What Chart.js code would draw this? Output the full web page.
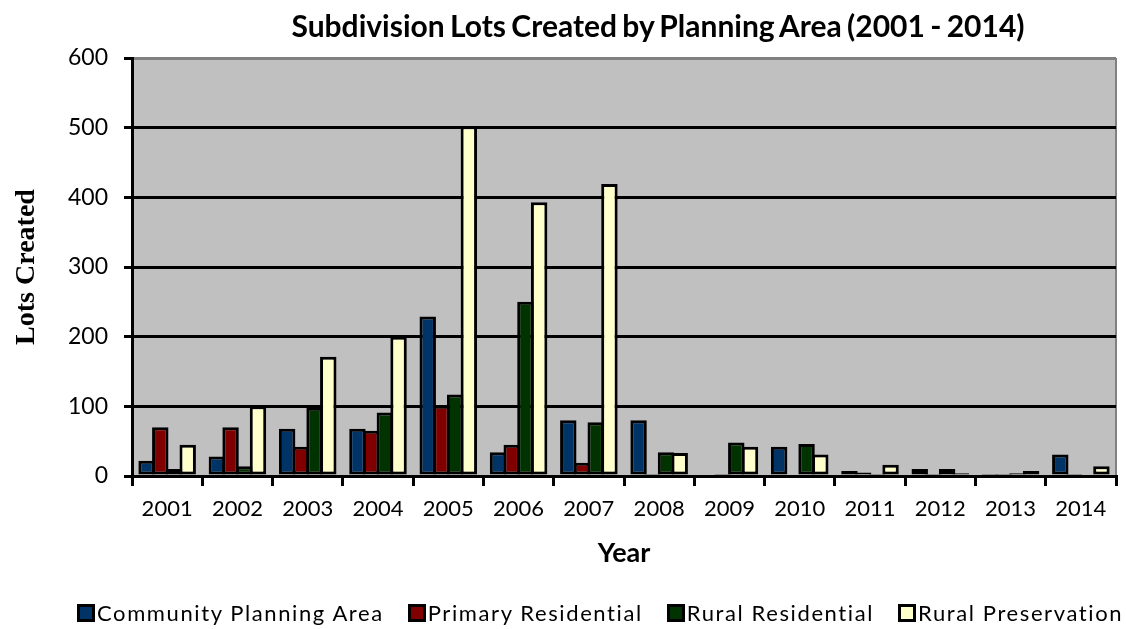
<!DOCTYPE html>
<html>
<head>
<meta charset="utf-8">
<script src="https://cdn.jsdelivr.net/npm/chart.js@4.4.1/dist/chart.umd.min.js"></script>
<style>
    html, body { margin: 0; padding: 0; background: #fff; }
    #wrap { position: relative; width: 1126px; height: 629px; }
    #chartTitle {
        position: absolute; top: 7px; left: 658px; transform: translateX(-50%);
        font-family: Lato, sans-serif; font-weight: bold; font-size: 30px;
        white-space: nowrap; color: #000; word-spacing: -2px;
    }
    #legend {
        position: absolute; top: 599px; left: 77px; display: flex; align-items: center;
        font-family: Lato, sans-serif; font-size: 22px; color: #000; letter-spacing: 1.6px;
        white-space: nowrap;
    }
    #legend .item { display: flex; align-items: center; margin-right: 24px; }
    #legend .box { width: 12px; height: 12px; border: 3px solid #000; margin-right: 2px; }
</style>
</head>
<body>
<div id="wrap">
    <canvas id="lotsChart" width="1126" height="629"></canvas>
    <div id="chartTitle">Subdivision Lots Created by Planning Area (2001 - 2014)</div>
    <div id="legend"></div>
</div>
<script>
const years = ['2001', '2002', '2003', '2004', '2005', '2006', '2007', '2008', '2009', '2010', '2011', '2012', '2013', '2014'];
const communityPlanning = [22, 28, 68, 68, 229, 34, 80, 80, 2, 42, 7, 10, 3, 31];
const primaryResidential = [70, 70, 42, 65, 101, 45, 19, 3, 1, 0, 5, 1, 1, 1];
const ruralResidential = [10, 14, 98, 91, 117, 250, 77, 34, 48, 46, 3, 10, 4, 2];
const ruralPreservation = [45, 100, 171, 200, 502, 393, 419, 33, 42, 31, 16, 4, 7, 14];
const yTicks = [0, 100, 200, 300, 400, 500, 600];

const seriesNames = ['Community Planning Area', 'Primary Residential', 'Rural Residential', 'Rural Preservation'];
const seriesColors = ['#003366', '#800000', '#003300', '#ffffcc'];

document.addEventListener('DOMContentLoaded', function () {
    initChart();
});

// fondo gris del area de trazado + borde derecho
const plotBackground = {
    id: 'plotBackground',
    beforeDraw(chart) {
        const { ctx, chartArea: a } = chart;
        ctx.save();
        ctx.fillStyle = '#c0c0c0';
        ctx.fillRect(a.left, a.top, a.right - a.left, a.bottom - a.top);
        ctx.strokeStyle = '#808080';
        ctx.lineWidth = 2;
        ctx.beginPath();
        ctx.moveTo(a.right, a.top);
        ctx.lineTo(a.right, a.bottom);
        ctx.stroke();
        ctx.restore();
    }
};

function buildLegend(chart) {
    const legend = document.getElementById('legend');
    chart.data.datasets.forEach(ds => {
        const item = document.createElement('div');
        item.className = 'item';
        const box = document.createElement('span');
        box.className = 'box';
        box.style.background = ds.backgroundColor;
        const label = document.createElement('span');
        label.textContent = ds.label;
        item.appendChild(box);
        item.appendChild(label);
        legend.appendChild(item);
    });
}

function initChart() {
    const ctx = document.getElementById('lotsChart');
    const values = [communityPlanning, primaryResidential, ruralResidential, ruralPreservation];

    const chart = new Chart(ctx, {
        type: 'bar',
        data: {
            labels: years,
            datasets: values.map((data, i) => ({
                label: seriesNames[i],
                data: data,
                backgroundColor: seriesColors[i],
                borderColor: '#000',
                borderWidth: 3,
                borderSkipped: false,
                categoryPercentage: 0.78,
                barPercentage: 1.2
            }))
        },
        options: {
            responsive: false,
            animation: false,
            layout: { padding: { top: 58, right: 10, bottom: 60, left: 0 } },
            plugins: {
                legend: { display: false },
                title: { display: false },
                tooltip: { enabled: false }
            },
            scales: {
                x: {
                    offset: true,
                    grid: {
                        offset: true,
                        drawOnChartArea: false,
                        drawTicks: true,
                        tickLength: 10,
                        color: '#000',
                        lineWidth: 3
                    },
                    border: { color: '#000', width: 3 },
                    ticks: {
                        color: '#000',
                        padding: 10,
                        font: { family: 'Lato, sans-serif', size: 22 }
                    },
                    title: {
                        display: true,
                        text: 'Year',
                        color: '#000',
                        padding: { top: 0, bottom: 0 },
                        font: { family: 'Lato, sans-serif', size: 27, weight: 'bold' }
                    },
                    afterFit: function (scale) { scale.height = 93; }
                },
                y: {
                    min: 0,
                    max: 600,
                    afterBuildTicks: function (scale) {
                        scale.ticks = yTicks.map(v => ({ value: v }));
                    },
                    grid: {
                        color: (c) => (c.tick && c.tick.value === 600 ? '#808080' : '#000'),
                        tickColor: '#000',
                        lineWidth: 3,
                        tickLength: 8
                    },
                    border: { color: '#000', width: 3 },
                    ticks: {
                        color: '#000',
                        padding: 16,
                        font: { family: 'Lato, sans-serif', size: 23 }
                    },
                    title: {
                        display: true,
                        text: 'Lots Created',
                        color: '#000',
                        padding: { top: 10, bottom: 0 },
                        font: { family: '"Liberation Serif", serif', size: 28, weight: 'bold' }
                    },
                    afterFit: function (scale) { scale.width = 132; }
                }
            }
        },
        plugins: [plotBackground]
    });

    buildLegend(chart);
}
</script>
</body>
</html>
